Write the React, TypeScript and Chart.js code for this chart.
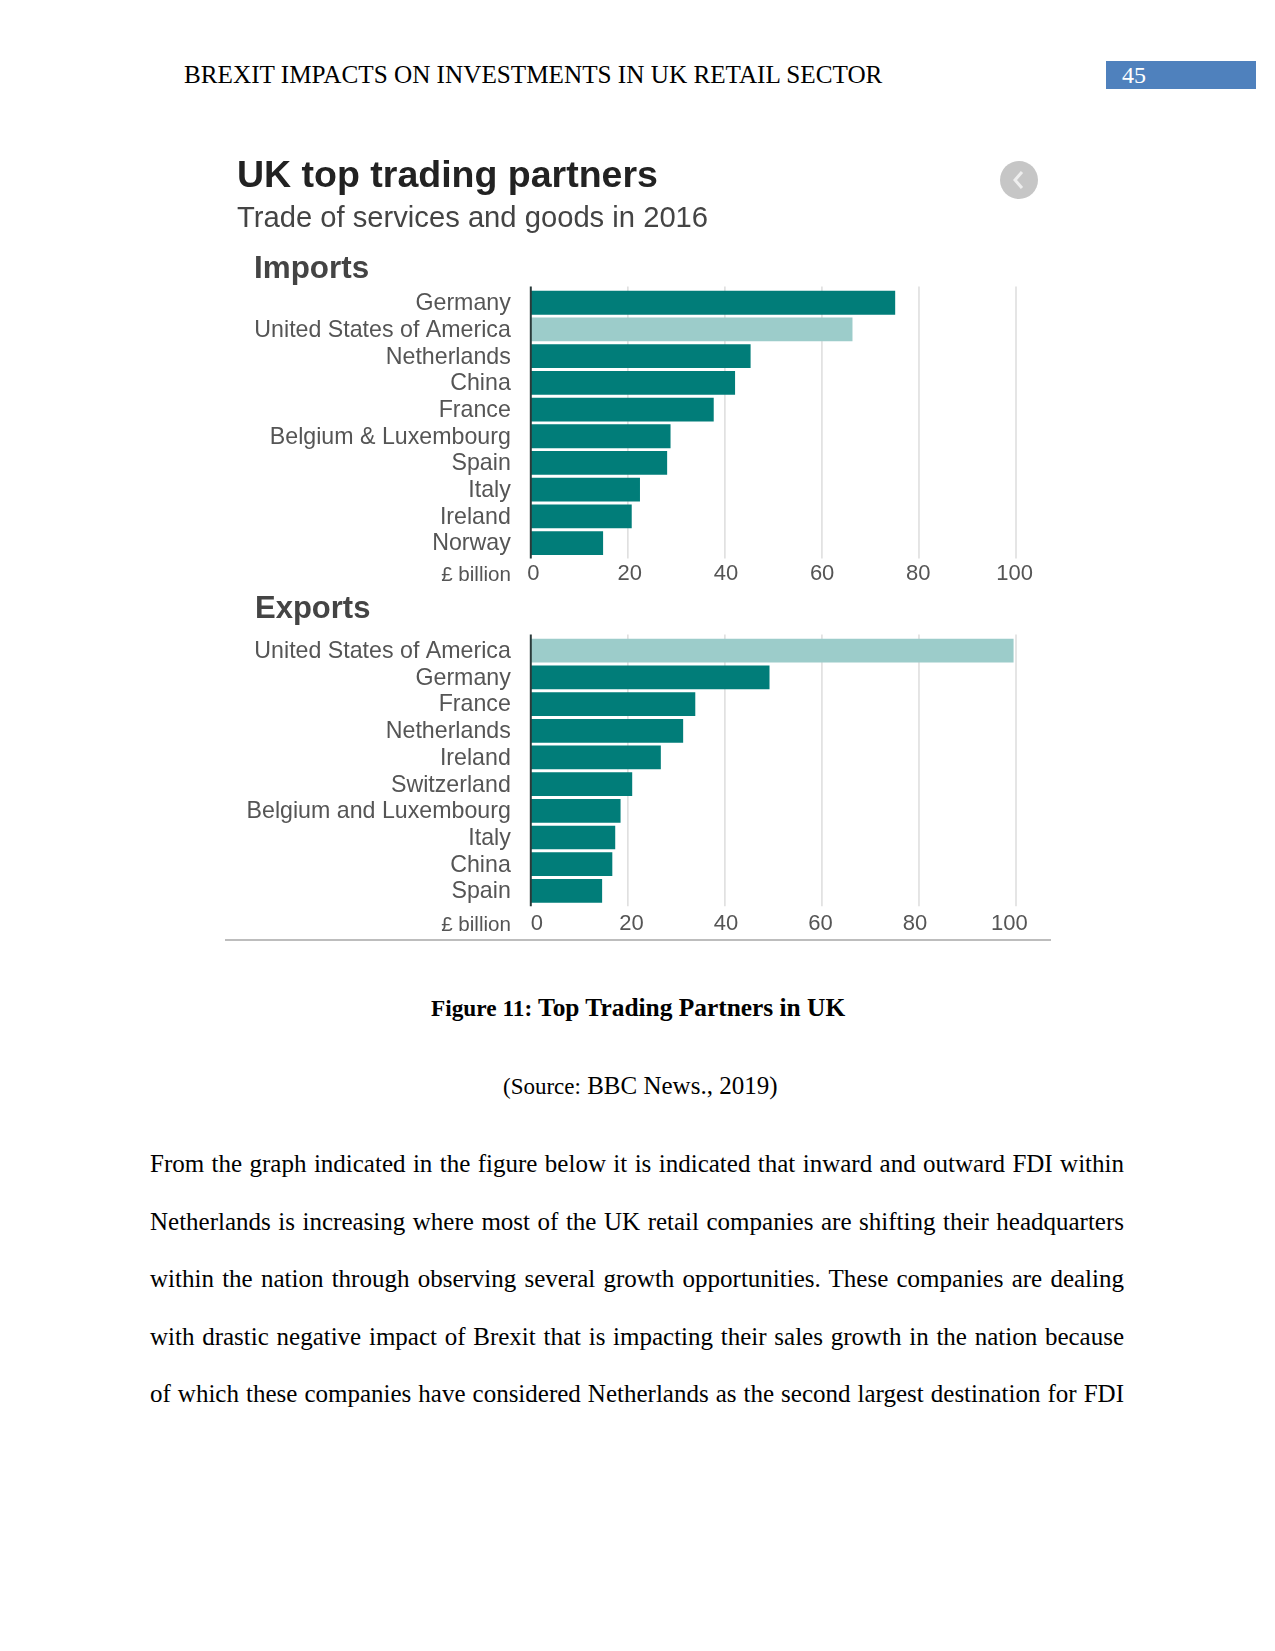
import React, { useEffect, useRef } from "react";
import { Chart, registerables } from "chart.js";

Chart.register(...registerables);

const importCountries = ["Germany", "United States of America", "Netherlands", "China", "France", "Belgium & Luxembourg", "Spain", "Italy", "Ireland", "Norway"];
const importValues = [75.1, 66.3, 45.3, 42.1, 37.7, 28.8, 28.1, 22.5, 20.8, 14.9];
const exportCountries = ["United States of America", "Germany", "France", "Netherlands", "Ireland", "Switzerland", "Belgium and Luxembourg", "Italy", "China", "Spain"];
const exportValues = [99.5, 49.2, 33.9, 31.4, 26.8, 20.9, 18.5, 17.4, 16.8, 14.7];
const tickValues = [0, 20, 40, 60, 80, 100];
const highlightCountry = "United States of America";

const bodyLines = [
  "From the graph indicated in the figure below it is indicated that inward and outward FDI within",
  "Netherlands is increasing where most of the UK retail companies are shifting their headquarters",
  "within the nation through observing several growth opportunities. These companies are dealing",
  "with drastic negative impact of Brexit that is impacting their sales growth in the nation because",
  "of which these companies have considered Netherlands as the second largest destination for FDI",
];

const SANS = '"Liberation Sans", Arial, sans-serif';
const SERIF = '"Liberation Serif", "Times New Roman", serif';
const DARK = "#017D79";
const LIGHT = "#9CCCCA";

function BarChart(p: {
  labels: string[]; values: number[]; top: number; height: number;
  padTop: number; padBottom: number; labelMin: number; labelMax: number;
  extTop: number; extBottom: number; tickPad: number;
}) {
  const ref = useRef<HTMLCanvasElement>(null);
  useEffect(() => {
    const extended = {
      id: "extended",
      beforeDatasetsDraw(c: any) {
        const { ctx, chartArea, scales } = c;
        ctx.save();
        ctx.lineWidth = 1.6;
        ctx.strokeStyle = "#dfdfdf";
        for (const v of tickValues.slice(1)) {
          const x = scales.x.getPixelForValue(v);
          ctx.beginPath();
          ctx.moveTo(x, chartArea.top - p.extTop);
          ctx.lineTo(x, chartArea.bottom + p.extBottom);
          ctx.stroke();
        }
        ctx.restore();
      },
      afterDatasetsDraw(c: any) {
        const { ctx, chartArea, scales } = c;
        const x = scales.x.getPixelForValue(0);
        ctx.save();
        ctx.lineWidth = 2;
        ctx.strokeStyle = "#2b3a3a";
        ctx.beginPath();
        ctx.moveTo(x, chartArea.top - p.extTop);
        ctx.lineTo(x, chartArea.bottom + p.extBottom);
        ctx.stroke();
        ctx.restore();
      },
    };
    const chart = new Chart(ref.current!, {
      type: "bar",
      data: {
        labels: p.labels,
        datasets: [{
          data: p.values,
          backgroundColor: p.labels.map((l) => (l === highlightCountry ? LIGHT : DARK)),
          barPercentage: 0.89,
          categoryPercentage: 1,
        }],
      },
      plugins: [extended],
      options: {
        indexAxis: "y",
        animation: false,
        responsive: false,
        devicePixelRatio: 1,
        layout: { padding: { top: p.padTop, bottom: p.padBottom, left: 0, right: 44 } },
        plugins: { legend: { display: false }, tooltip: { enabled: false } },
        scales: {
          y: {
            type: "category",
            afterFit: (s: any) => { s.width = 330.8; s.paddingTop = 0; s.paddingBottom = 0; },
            grid: { display: false, drawTicks: false },
            border: { display: false },
            ticks: { padding: 20, labelOffset: 1, autoSkip: false, color: "#555", font: { family: SANS, size: 23.2 } },
          },
          x: {
            type: "linear",
            min: 0,
            max: 100,
            position: "bottom",
            grid: { display: false, drawTicks: false },
            border: { display: false },
            ticks: { display: false, stepSize: 20 },
            afterFit: (s: any) => { s.height = 0; s.paddingLeft = 0; s.paddingRight = 0; },
          },
          x2: {
            type: "linear",
            axis: "x",
            min: p.labelMin,
            max: p.labelMax,
            position: "bottom",
            grid: { display: false, drawTicks: false },
            border: { display: false },
            afterBuildTicks: (s: any) => { s.ticks = tickValues.map((value) => ({ value })); },
            afterFit: (s: any) => { s.height = 40; s.paddingLeft = 0; s.paddingRight = 0; },
            ticks: { padding: p.tickPad, maxRotation: 0, autoSkip: false, color: "#555", font: { family: SANS, size: 22 } },
          },
        },
      } as any,
    });
    return () => chart.destroy();
  }, []);
  return (
    <canvas
      ref={ref}
      width={860}
      height={p.height}
      style={{ position: "absolute", left: 200, top: p.top, width: 860, height: p.height, filter: "blur(0.5px)" }}
    />
  );
}

function T(p: { x: number; y: number; children: any; style?: any }) {
  return (
    <div style={{ position: "absolute", left: p.x, top: p.y - 20, lineHeight: "40px", height: 40, whiteSpace: "nowrap", ...p.style }}>
      {p.children}
    </div>
  );
}

export default function App() {
  const chartText = { fontFamily: SANS, filter: "blur(0.5px)" };
  return (
    <div style={{ position: "absolute", left: 0, top: 0, width: 1275, height: 1651, background: "#fff", overflow: "hidden" }}>
      <T x={184} y={75} style={{ fontFamily: SERIF, fontSize: 25.2, color: "#000" }}>BREXIT IMPACTS ON INVESTMENTS IN UK RETAIL SECTOR</T>
      <div style={{ position: "absolute", left: 1106, top: 61, width: 150, height: 28, background: "#4F81BD" }} />
      <T x={1122} y={75} style={{ fontFamily: SERIF, fontSize: 24, color: "#fff" }}>45</T>

      <T x={237} y={174} style={{ ...chartText, fontSize: 37.5, fontWeight: 700, color: "#222" }}>UK top trading partners</T>
      <T x={237} y={217} style={{ ...chartText, fontSize: 29.2, color: "#444" }}>Trade of services and goods in 2016</T>
      <svg width={44} height={44} style={{ position: "absolute", left: 997, top: 158 }}>
        <circle cx={22} cy={22} r={19} fill="#c6c6c6" />
        <path d="M25 14 L18 22 L25 30" fill="none" stroke="#eee" strokeWidth={3} />
      </svg>

      <T x={254} y={268} style={{ ...chartText, fontSize: 31.4, fontWeight: 700, color: "#444" }}>Imports</T>
      <BarChart labels={importCountries} values={importValues} top={270} height={330} padTop={19.4} padBottom={3.6} labelMin={-0.55} labelMax={100.3} extTop={3} extBottom={2} tickPad={4} />
      <div style={{ position: "absolute", right: 1275 - 511, top: 554, lineHeight: "40px", ...chartText, fontSize: 20.6, color: "#555" }}>£ billion</div>

      <T x={255} y={608} style={{ ...chartText, fontSize: 31, fontWeight: 700, color: "#444" }}>Exports</T>
      <BarChart labels={exportCountries} values={exportValues} top={619} height={330} padTop={18.4} padBottom={4.8} labelMin={-1.3} labelMax={101.4} extTop={3} extBottom={2} tickPad={7} />
      <div style={{ position: "absolute", right: 1275 - 511, top: 904, lineHeight: "40px", ...chartText, fontSize: 20.6, color: "#555" }}>£ billion</div>
      <div style={{ position: "absolute", left: 225, top: 938.5, width: 826, height: 2, background: "#bdbdbd" }} />

      <T x={431} y={1007} style={{ fontFamily: SERIF, fontSize: 25.4, fontWeight: 700, color: "#000" }}><span style={{ fontSize: 23.3 }}>Figure 11:</span> Top Trading Partners in UK</T>
      <T x={503} y={1086} style={{ fontFamily: SERIF, fontSize: 25, color: "#000" }}><span style={{ fontSize: 23 }}>(Source:</span> BBC News., 2019)</T>
      {bodyLines.map((line, i) => (
        <div key={i} style={{ position: "absolute", left: 150, top: [1144, 1202, 1259, 1317, 1374][i], width: 974, lineHeight: "40px", height: 40, fontFamily: SERIF, fontSize: 25, color: "#000", textAlign: "justify", textAlignLast: "justify" }}>{line}</div>
      ))}
    </div>
  );
}
